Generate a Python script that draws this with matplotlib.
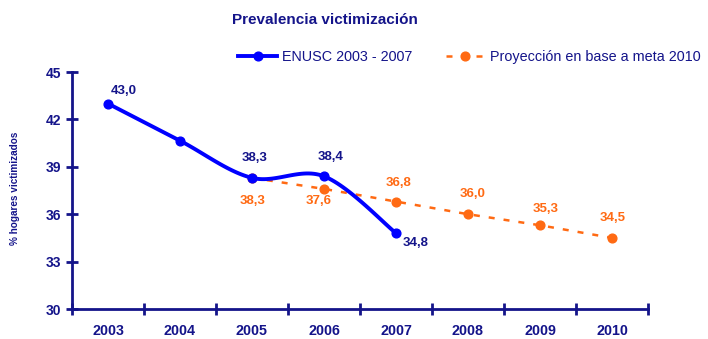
import numpy as np
import matplotlib
matplotlib.use("Agg")
import matplotlib.pyplot as plt
from matplotlib.lines import Line2D

plt.rcParams['font.family'] = ['Liberation Sans', 'DejaVu Sans']

# categorias y series
anios = ['2003', '2004', '2005', '2006', '2007', '2008', '2009', '2010']
enusc = [43.0, 40.65, 38.3, 38.4, 34.8]          # 2003-2007
enusc_etiq = ['43,0', None, '38,3', '38,4', '34,8']
proy = [38.3, 37.6, 36.8, 36.0, 35.3, 34.5]      # 2005-2010
proy_etiq = ['38,3', '37,6', '36,8', '36,0', '35,3', '34,5']

navy = '#14148a'
azul = '#0000ff'
naranjo = '#ff6a13'


def suavizar(x, y, n=30):
    # curva bezier tipo "linea suavizada" de excel
    x = np.asarray(x, float)
    y = np.asarray(y, float)
    P = np.column_stack([x, y])
    out = [P[0]]
    for i in range(len(P) - 1):
        p0 = P[i - 1] if i > 0 else P[i]
        p3 = P[i + 2] if i + 2 < len(P) else P[i + 1]
        c1 = P[i] + (P[i + 1] - p0) / 6.0
        c2 = P[i + 1] - (p3 - P[i]) / 6.0
        t = np.linspace(0, 1, n)[1:, None]
        seg = ((1 - t) ** 3) * P[i] + 3 * ((1 - t) ** 2) * t * c1 \
            + 3 * (1 - t) * t ** 2 * c2 + t ** 3 * P[i + 1]
        out.extend(seg)
    out = np.array(out)
    return out[:, 0], out[:, 1]


fig = plt.figure(figsize=(7.08, 3.39), dpi=100)
ax = fig.add_axes([72 / 708, 1 - 309 / 339, 576 / 708, 237 / 339])

xe = np.arange(len(enusc))
xp = np.arange(2, 2 + len(proy))

# proyeccion
ax.plot(xp, proy, color=naranjo, lw=1.8, dashes=(2.4, 3.6), zorder=2)
ax.plot(xp, proy, 'o', color=naranjo, ms=6.3, zorder=3)

# ENUSC suavizada
sx, sy = suavizar(xe, enusc)
ax.plot(sx, sy, color=azul, lw=2.8, solid_capstyle='round', zorder=4)
ax.plot(xe, enusc, 'o', color=azul, ms=6.3, zorder=5)

# etiquetas de datos
off_e = [(11.5, 9.4), None, (2, 14.4), (5, 13.7), (14.4, -7.2)]
for x, v, t, o in zip(xe, enusc, enusc_etiq, off_e):
    if t is None:
        continue
    ax.annotate(t, (x, v), xytext=o, textcoords='offset points', color=navy,
                fontsize=9.5, fontweight='bold', ha='center', va='center')
off_p = [(0.7, -16.5), (-3.6, -8.6), (2, 13.7), (3.6, 14.4), (4.3, 11.5),
         (0.7, 14.4)]
for x, v, t, o in zip(xp, proy, proy_etiq, off_p):
    ax.annotate(t, (x, v), xytext=o, textcoords='offset points', color=naranjo,
                fontsize=9.5, fontweight='bold', ha='center', va='center')

ax.set_xlim(-0.5, 7.5)
ax.set_ylim(30, 45)
ax.set_yticks([30, 33, 36, 39, 42, 45])
ax.set_xticks(np.arange(8))
ax.set_xticklabels(anios)
ax.set_xticks(np.arange(-0.5, 8, 1), minor=True)

for s in ['top', 'right']:
    ax.spines[s].set_visible(False)
for s in ['left', 'bottom']:
    ax.spines[s].set_color(navy)
    ax.spines[s].set_linewidth(2)

ax.tick_params(axis='x', which='major', length=0, pad=11, labelsize=10.3,
               labelcolor=navy)
ax.tick_params(axis='x', which='minor', direction='inout', length=9, width=2,
               color=navy)
ax.tick_params(axis='y', direction='inout', length=9, width=2, color=navy,
               labelsize=10, labelcolor=navy, pad=3)
for lb in ax.get_xticklabels() + ax.get_yticklabels():
    lb.set_fontweight('bold')

fig.text(15 / 708, 1 - 188 / 339, '% hogares victimizados', rotation=90,
         fontsize=7.2, fontweight='bold', color=navy, ha='center', va='center')

fig.text(325 / 708, 1 - 20 / 339, 'Prevalencia victimización', fontsize=11,
         fontweight='bold', color=navy, ha='center', va='center')

h1 = Line2D([], [], color=azul, lw=2.8, marker='o', ms=6.3)
h2 = Line2D([], [], color=naranjo, lw=1.8, dashes=(2.4, 3.6), marker='o', ms=6.3)
leg = fig.legend([h1, h2], ['ENUSC 2003 - 2007', 'Proyección en base a meta 2010'],
                 loc='center left', bbox_to_anchor=(238 / 708, 1 - 57 / 339),
                 ncol=2, frameon=False, fontsize=10.4, handlelength=2.7,
                 handletextpad=0.35, columnspacing=2.3, borderaxespad=0,
                 borderpad=0)
for t in leg.get_texts():
    t.set_color(navy)

fig.savefig('out.png', dpi=100)
